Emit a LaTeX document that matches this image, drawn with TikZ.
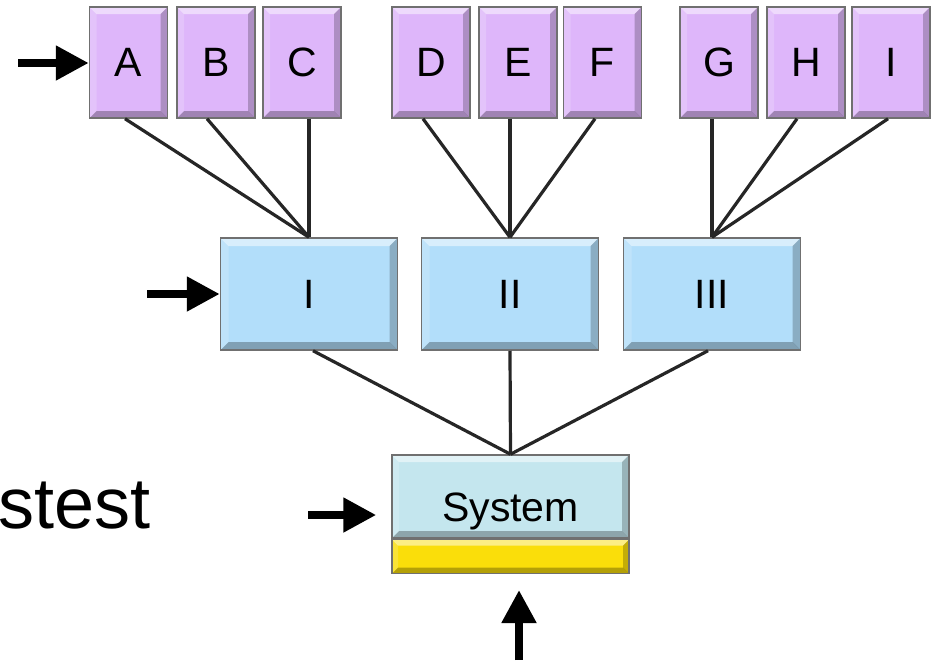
\documentclass[tikz,border=0pt]{standalone}
\usepackage{fontspec}
\setmainfont{Liberation Sans}
\usetikzlibrary{arrows.meta,calc}
\definecolor{purplebox}{RGB}{222,182,250}
\definecolor{bluebox}{RGB}{178,222,250}
\definecolor{sysbox}{RGB}{196,230,238}
\definecolor{yellowbox}{RGB}{250,222,10}
\definecolor{edgegray}{RGB}{112,112,112}
\tikzset{
  bevel/.style={path picture={
    \fill[white,opacity=.5] (path picture bounding box.north west) -- (path picture bounding box.north east)
      -- ([shift={(-#1,-#1)}]path picture bounding box.north east) -- ([shift={(#1,-#1)}]path picture bounding box.north west) -- cycle;
    \fill[black,opacity=.28] (path picture bounding box.south west) -- (path picture bounding box.south east)
      -- ([shift={(-#1,#1)}]path picture bounding box.south east) -- ([shift={(#1,#1)}]path picture bounding box.south west) -- cycle;
    \fill[black,opacity=.22] (path picture bounding box.north east) -- (path picture bounding box.south east)
      -- ([shift={(-#1,#1)}]path picture bounding box.south east) -- ([shift={(-#1,-#1)}]path picture bounding box.north east) -- cycle;
    \fill[white,opacity=.18] (path picture bounding box.north west) -- (path picture bounding box.south west)
      -- ([shift={(#1,#1)}]path picture bounding box.south west) -- ([shift={(#1,-#1)}]path picture bounding box.north west) -- cycle;
  }},
  box/.style={draw=edgegray, line width=1.5pt, inner sep=0pt, font=\fontsize{41}{48}\selectfont},
  leaf/.style={box, fill=purplebox, minimum width=78pt, minimum height=111pt, bevel=7pt},
  mid/.style={box, fill=bluebox, minimum width=177pt, minimum height=112pt, bevel=8pt},
  sys/.style={box, fill=sysbox, minimum width=237pt, minimum height=83pt, bevel=7pt},
  base/.style={box, fill=yellowbox, minimum width=237pt, minimum height=34pt, bevel=6pt},
  link/.style={line width=3.2pt, black!85},
  inarrow/.style={line width=8pt, -{Triangle[length=33pt,width=33pt]}},
}
\begin{document}
\begin{tikzpicture}[x=1pt,y=-1pt]
\useasboundingbox (0,0) rectangle (935,662);

\node[leaf] (A) at (128.5,62.5) {A};
\node[leaf] (B) at (216,62.5) {B};
\node[leaf] (C) at (302,62.5) {C};
\node[leaf] (D) at (431,62.5) {D};
\node[leaf] (E) at (518,62.5) {E};
\node[leaf] (F) at (602.5,62.5) {F};
\node[leaf] (G) at (719,62.5) {G};
\node[leaf] (H) at (806,62.5) {H};
\node[leaf] (Ib) at (891,62.5) {I};

\node[mid] (M1) at (309,294) {I};
\node[mid] (M2) at (510,294) {II};
\node[mid] (M3) at (712,294) {III};

\node[sys] (S) at (510.5,496.5) {\smash{\raisebox{-25pt}{System}}};
\node[base,anchor=north] (Y) at (S.south) {};

\node[anchor=base west, inner sep=0pt, font=\fontsize{72}{80}\selectfont] (T) at (-2,528) {stest};

% links top level
\draw[link] ([xshift=-3.5pt]A.south) -- (M1.north);
\draw[link] ([xshift=-9pt]B.south) -- (M1.north);
\draw[link] (C.south -| M1.north) -- (M1.north);
\draw[link] ([xshift=-8pt]D.south) -- (M2.north);
\draw[link] (E.south -| M2.north) -- (M2.north);
\draw[link] ([xshift=-7.5pt]F.south) -- (M2.north);
\draw[link] (G.south -| M3.north) -- (M3.north);
\draw[link] ([xshift=-9pt]H.south) -- (M3.north);
\draw[link] ([xshift=-3pt]Ib.south) -- (M3.north);

% links middle level
\draw[link] ([xshift=4pt]M1.south) -- (S.north);
\draw[link] (M2.south) -- (S.north);
\draw[link] ([xshift=-4pt]M3.south) -- (S.north);

% input arrows
\coordinate (a1) at (18,63);
\coordinate (a2) at (147,294);
\coordinate (a3) at (308,515);
\coordinate (a4) at (519,660);
\draw[inarrow] (a1) -- (A.west |- a1);
\draw[inarrow] (a2) -- (M1.west |- a2);
\draw[inarrow] (a3) -- ([xshift=-15pt]S.west |- a3);
\draw[inarrow] (a4) -- (519,590);
\end{tikzpicture}
\end{document}
